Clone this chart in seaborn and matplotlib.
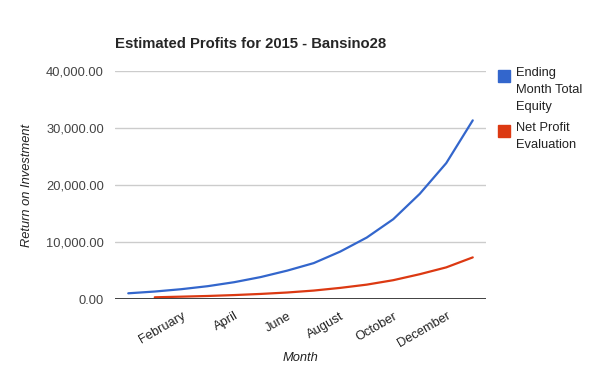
import matplotlib
matplotlib.use("Agg")
import matplotlib.pyplot as plt
from matplotlib.patches import Rectangle
import numpy as np
import pandas as pd
import seaborn as sb

# data
months = ["", "January", "February", "March", "April", "May", "June", "July",
          "August", "September", "October", "November", "December", "January"]
equity = [1000, 1310, 1720, 2250, 2950, 3850, 4980, 6300,
          8320, 10780, 14000, 18450, 23840, 31340]
profit = [np.nan, 300, 410, 530, 690, 890, 1140, 1480,
          1950, 2520, 3300, 4350, 5550, 7300]
series = ["Ending\nMonth Total\nEquity", "Net Profit\nEvaluation"]
colors = ["#3366cc", "#dc3912"]

df = pd.DataFrame({
    "idx": list(range(len(months))) * 2,
    "value": equity + profit,
    "series": [series[0]] * len(months) + [series[1]] * len(months),
})
df = df.dropna()

sb.set_style("white")
plt.rcParams["font.family"] = ["Liberation Sans", "DejaVu Sans"]

fig = plt.figure(figsize=(6, 3.71), dpi=100)
ax = fig.add_axes([115/600, 1-299/371, 371/600, 228/371])

sb.lineplot(data=df, x="idx", y="value", hue="series", palette=colors,
            linewidth=1.6, legend=False, ax=ax)

ax.set_xlim(-0.5, len(months) - 0.5)
ax.set_ylim(0, 40000)
yt = [0, 10000, 20000, 30000, 40000]
ax.set_yticks(yt)
ax.set_yticklabels([f"{v:,.2f}" for v in yt], color="#444444", fontsize=9.3)
ax.yaxis.grid(True, color="#cccccc", linewidth=1)
ax.axhline(0, color="#333333", linewidth=1.3, zorder=3)
xt = list(range(2, len(months), 2))
ax.set_xticks(xt)
ax.set_xticklabels([months[i] for i in xt], rotation=30, ha="right",
                   rotation_mode="anchor", color="#222222", fontsize=9.3)
ax.tick_params(axis="y", length=0, pad=8)
ax.tick_params(axis="x", length=0, pad=8)
for s in ax.spines.values():
    s.set_visible(False)

ax.set_xlabel("Month", fontsize=9.3, style="italic", color="#222222")
ax.xaxis.set_label_coords(0.5, -(358-299)/228, transform=ax.transAxes)
ax.xaxis.label.set_va("center")
ax.set_ylabel("Return on Investment", fontsize=9.3, style="italic", color="#222222")
ax.yaxis.set_label_coords(-(115-27)/371, 0.5, transform=ax.transAxes)
ax.yaxis.label.set_va("center")
fig.text(115/600, 1-44/371, "Estimated Profits for 2015 - Bansino28",
         fontsize=10.7, fontweight="bold", va="center", ha="left")

# legend
for k, (lab, c) in enumerate(zip(series, colors)):
    ytop = [70, 125][k]
    fig.add_artist(Rectangle((498/600, 1-(ytop+12)/371), 12/600, 12/371,
                             color=c, transform=fig.transFigure))
    fig.text(516/600, 1-(ytop-3)/371, lab, fontsize=9.3, color="#222222",
             va="top", ha="left", linespacing=1.55)

plt.savefig("out.png", dpi=100)
